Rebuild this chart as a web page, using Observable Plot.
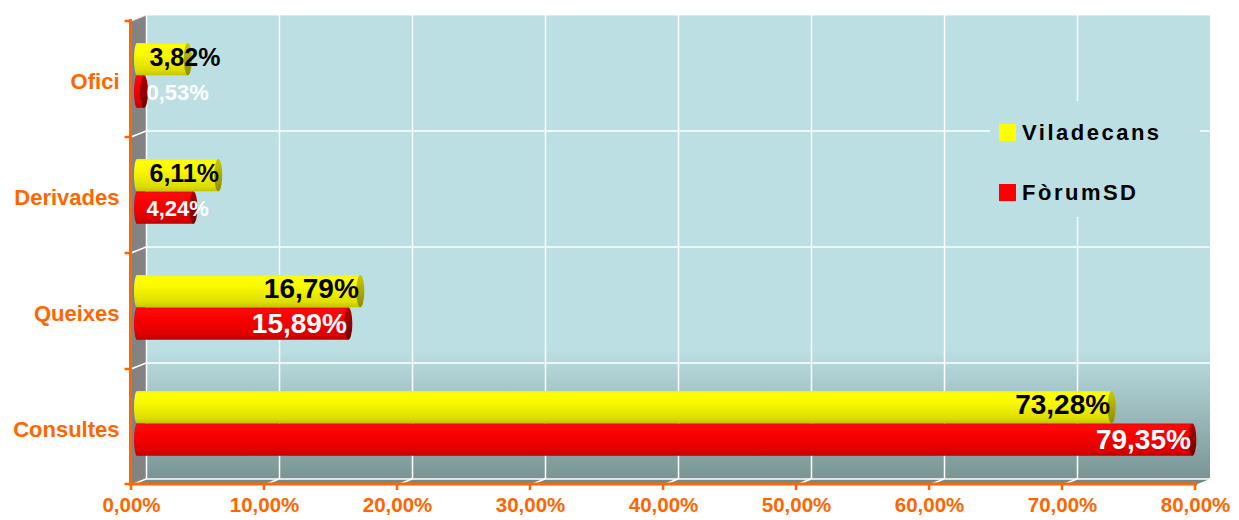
<!DOCTYPE html>
<html>
<head>
<meta charset="utf-8">
<script src="https://cdn.jsdelivr.net/npm/d3@7"></script>
<script src="https://cdn.jsdelivr.net/npm/@observablehq/plot@0.6"></script>
<style>
  body { margin: 0; background: #fff; }
</style>
</head>
<body>
<div id="chart"></div>
<script>
// Share of requests by type (%), Viladecans vs FòrumSD
const categories = ["Ofici", "Derivades", "Queixes", "Consultes"];
const seriesNames = ["Viladecans", "FòrumSD"];
const seriesColors = ["#FFFF00", "#FF0000"];
const viladecans = [3.82, 6.11, 16.79, 73.28];
const forumSD = [0.53, 4.24, 15.89, 79.35];
const xTicks = [0, 10, 20, 30, 40, 50, 60, 70, 80];

const rows = categories.flatMap((c, i) => [
  {category: c, series: seriesNames[0], value: viladecans[i]},
  {category: c, series: seriesNames[1], value: forumSD[i]}
]);

const pct = (v) => v.toFixed(2).replace(".", ",") + "%";
const ORANGE = "#FF6600";
const WALL = "#BBDFE3";
const FONT = "'Liberation Sans', Arial, Helvetica, sans-serif";
const DX = 15, DY = -6;        // depth of the 3-D box
const BAR_DX = 6, BAR_DY = -3; // bars sit half-way into the box

const seriesStyle = {
  "Viladecans": {grad: "gYel", cap: "gYelCap", text: "#000", insetTop: 25, insetBottom: 58.75, dy: -22, small: 25, smallDx: 18},
  "FòrumSD":    {grad: "gRed", cap: "gRedCap", text: "#fff", insetTop: 57.5, insetBottom: 26.25, dy: 13, small: 22, smallDx: 15}
};

// gradient definitions for the wall and the cylinders
function gradients() {
  const g = d3.create("svg:g");
  const defs = g.append("defs");
  const lin = (id, stops) => {
    const lg = defs.append("linearGradient").attr("id", id)
      .attr("x1", 0).attr("y1", 0).attr("x2", 0).attr("y2", 1);
    for (const [o, c] of stops) lg.append("stop").attr("offset", o).attr("stop-color", c);
  };
  lin("gWall", [[0, WALL], [0.72, WALL], [1, "#7A9494"]]);
  lin("gYel", [[0, "#F2F200"], [0.08, "#FFFF00"], [0.35, "#FAFA00"], [0.6, "#EBEB00"], [0.85, "#DDDD00"], [1, "#C4C400"]]);
  lin("gRed", [[0, "#EE0000"], [0.08, "#FF0A0A"], [0.35, "#F80000"], [0.6, "#EC0000"], [0.85, "#DC0000"], [1, "#B80000"]]);
  lin("gYelCap", [[0, "#C8C800"], [0.5, "#ABAB00"], [1, "#8C8C00"]]);
  lin("gRedCap", [[0, "#B00000"], [0.5, "#940000"], [1, "#700000"]]);
  return g.node();
}

// back wall, side wall, floor and the horizontal grid of the box
function room(index, {x, y}) {
  const g = d3.create("svg:g");
  const bw = y(categories[1]) - y(categories[0]);
  const x0 = x(0), x1 = x(xTicks[xTicks.length - 1]);
  const yTop = y(categories[0]);
  const yBot = y(categories[categories.length - 1]) + bw;
  g.append("rect").attr("x", x0 + DX).attr("y", yTop + DY)
    .attr("width", x1 - x0).attr("height", yBot - yTop).attr("fill", "url(#gWall)");
  g.append("path").attr("fill", "#838383")
    .attr("d", `M${x0},${yTop}L${x0 + DX},${yTop + DY}L${x0 + DX},${yBot + DY}L${x0},${yBot}Z`);
  g.append("path").attr("fill", "#708A8A")
    .attr("d", `M${x0},${yBot}L${x0 + DX},${yBot + DY}L${x1 + DX},${yBot + DY}L${x1},${yBot}Z`);
  const lines = g.append("g").attr("stroke", "white").attr("fill", "none").attr("stroke-width", 1.5);
  categories.forEach((c, i) => {
    const yy = y(c);
    lines.append("path").attr("opacity", i === 0 ? 0.6 : 1)
      .attr("d", `M${x0},${yy}L${x0 + DX},${yy + DY}H${x1 + DX}`);
  });
  lines.append("path").attr("d", `M${x0},${yBot}L${x0 + DX},${yBot + DY}H${x1 + DX}`);
  for (const t of xTicks.slice(1, -1)) {
    lines.append("path").attr("d", `M${x(t)},${yBot}L${x(t) + DX},${yBot + DY}`);
  }
  return g.node();
}

// opaque box behind the legend
function legendBox() {
  return d3.create("svg:rect").attr("x", 990).attr("y", 101).attr("width", 210).attr("height", 116)
    .attr("fill", WALL).node();
}

// rounded far end and shaded near cap of each cylinder
function cylinderEnds(index, {x, y}) {
  const g = d3.create("svg:g");
  const bw = y(categories[1]) - y(categories[0]);
  for (const d of rows) {
    const st = seriesStyle[d.series];
    const h = bw - st.insetTop - st.insetBottom;
    const cy = y(d.category) + st.insetTop + BAR_DY + h / 2;
    g.append("ellipse").attr("cx", x(0) + BAR_DX).attr("cy", cy)
      .attr("rx", 3).attr("ry", h / 2).attr("fill", `url(#${st.grad})`);
    g.append("ellipse").attr("cx", x(d.value) + BAR_DX).attr("cy", cy)
      .attr("rx", 4).attr("ry", h / 2).attr("fill", `url(#${st.cap})`);
  }
  return g.node();
}

// orange axis lines with their ticks
function axes(index, {x, y}) {
  const g = d3.create("svg:g").attr("stroke", ORANGE).attr("fill", "none");
  const bw = y(categories[1]) - y(categories[0]);
  const x0 = x(0) - 0.5, x1 = x(xTicks[xTicks.length - 1]);
  const yTop = y(categories[0]);
  const yBot = y(categories[categories.length - 1]) + bw - 1;
  g.append("path").attr("stroke-width", 3).attr("d", `M${x0},${yTop - 2}V${yBot + 2}`);
  g.append("path").attr("stroke-width", 3).attr("d", `M${x0 - 1},${yBot}H${x1 + 2}`);
  const tk = g.append("g").attr("stroke-width", 2.5);
  for (const c of categories) tk.append("path").attr("d", `M${x0 - 6},${y(c)}H${x0}`);
  tk.append("path").attr("d", `M${x0 - 6},${yBot}H${x0}`);
  for (const t of xTicks) tk.append("path").attr("d", `M${x(t)},${yBot}V${yBot + 6}`);
  return g.node();
}

// legend drawn inside the plot area
function legend() {
  const g = d3.create("svg:g").attr("font-family", FONT).attr("font-weight", "bold")
    .attr("font-size", 22).attr("letter-spacing", "2.5px").attr("fill", "#000")
    .attr("text-anchor", "start");
  seriesNames.forEach((s, i) => {
    const yy = 124 + i * 60;
    g.append("rect").attr("x", 999).attr("y", yy).attr("width", 17).attr("height", 17)
      .attr("fill", seriesColors[i]);
    g.append("text").attr("x", 1022).attr("y", yy + 16).text(s);
  });
  return g.node();
}

const barMarks = seriesNames.map((s) => {
  const st = seriesStyle[s];
  return Plot.barX(rows.filter((d) => d.series === s), {
    x: "value", y: "category", fill: `url(#${st.grad})`,
    insetTop: st.insetTop, insetBottom: st.insetBottom, dx: BAR_DX, dy: BAR_DY
  });
});

const labelMarks = seriesNames.flatMap((s) => {
  const st = seriesStyle[s];
  const data = rows.filter((d) => d.series === s);
  const common = {y: "category", text: (d) => pct(d.value), fill: st.text,
    fontWeight: "bold", fontFamily: FONT, dy: st.dy, ariaLabel: "value labels"};
  return [
    Plot.text(data.filter((d) => d.value < 10), {...common, x: () => 0,
      textAnchor: "start", dx: st.smallDx, fontSize: st.small}),
    Plot.text(data.filter((d) => d.value >= 10), {...common, x: "value",
      textAnchor: "end", dx: 4, fontSize: 28})
  ];
});

const chart = Plot.plot({
  width: 1239,
  height: 520,
  marginLeft: 131,
  marginRight: 44,
  marginTop: 20,
  marginBottom: 35,
  x: {domain: [0, 80], axis: null},
  y: {domain: categories, padding: 0, axis: null},
  style: {fontFamily: FONT, background: "white", overflow: "visible"},
  marks: [
    gradients,
    room,
    Plot.ruleX(xTicks.slice(0, -1), {x: (d) => d, dx: DX, dy: DY, stroke: "white", strokeWidth: 1.5}),
    legendBox,
    ...barMarks,
    cylinderEnds,
    ...labelMarks,
    Plot.text(categories, {y: (d) => d, frameAnchor: "left", dx: -12, dy: 2, textAnchor: "end",
      fill: ORANGE, fontWeight: "bold", fontSize: 22, fontFamily: FONT, ariaLabel: "category labels"}),
    Plot.text(xTicks, {x: (d) => d, frameAnchor: "bottom", dy: 26, text: (d) => pct(d),
      fill: ORANGE, fontWeight: "bold", fontSize: 20.5, fontFamily: FONT, ariaLabel: "tick labels"}),
    axes,
    legend
  ]
});

// spacing of the bold labels
const svg = d3.select(chart);
svg.selectAll('g[aria-label="category labels"]').attr("letter-spacing", "0.6px");
svg.selectAll('g[aria-label="tick labels"]').attr("letter-spacing", "0.4px");
svg.selectAll('g[aria-label="value labels"]').attr("letter-spacing", "0.6px");

document.getElementById("chart").append(chart);
</script>
</body>
</html>
